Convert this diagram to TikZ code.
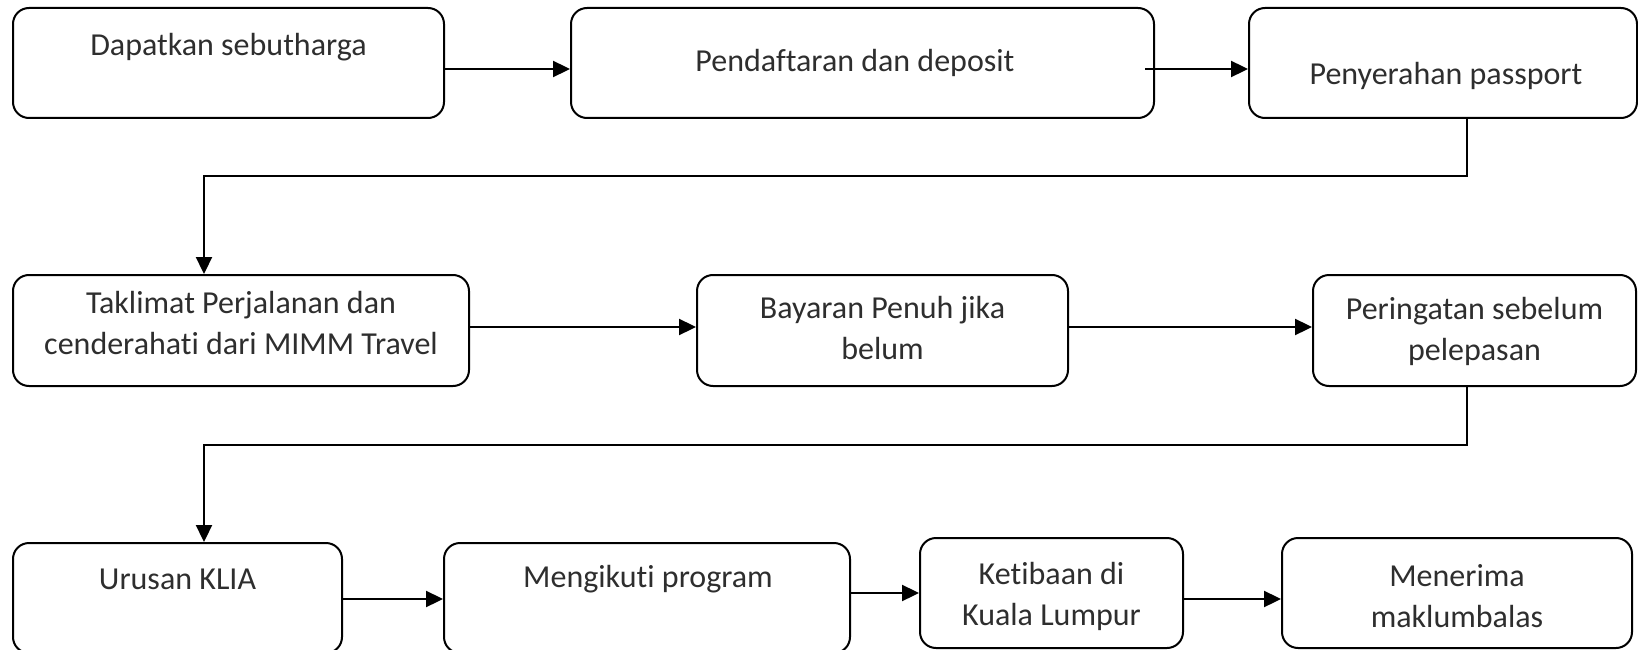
\documentclass[tikz,border=0pt]{standalone}
\usepackage{fontspec}
\setmainfont{Carlito}[Ligatures=NoCommon]
\usetikzlibrary{arrows.meta}
\begin{document}
\begin{tikzpicture}[x=1pt,y=-1pt,
  box/.style={draw, line width=2pt, rounded corners=16pt, minimum height=110pt, inner sep=0pt},
  txt/.style={text=black!82, align=center, font=\fontsize{32}{41}\selectfont, inner sep=0pt},
  arr/.style={line width=2.3pt, -{Triangle[length=17pt,width=16pt]}}]
\useasboundingbox (0,0) rectangle (1638,650);
% row 1
\node[box, minimum width=431pt] (b1) at (228.5,63) {};
\node[box, minimum width=583pt] (b2) at (862.5,63) {};
\node[box, minimum width=388pt] (b3) at (1443,63) {};
\node[txt] (t1) at (228.5,47) {Dapatkan sebutharga};
\node[txt] (t2) at (855,63) {Pendaftaran dan deposit};
\node[txt] (t3) at (1446,76) {Penyerahan passport};
% row 2
\node[box, minimum width=456pt, minimum height=111pt] (b4) at (241,330.5) {};
\node[box, minimum width=371pt, minimum height=111pt] (b5) at (882.5,330.5) {};
\node[box, minimum width=323pt, minimum height=111pt] (b6) at (1474.5,330.5) {};
\node[txt] (t4) at (241,323.5) {Taklimat Perjalanan dan\\cenderahati dari MIMM Travel};
\node[txt] (t5) at (882.5,328.5) {Bayaran Penuh jika\\belum};
\node[txt] (t6) at (1474.5,331.5) {Peringatan sebelum\\pelepasan};
% row 3
\node[box, minimum width=329pt] (b7) at (177.5,598) {};
\node[box, minimum width=406pt] (b8) at (647,598) {};
\node[box, minimum width=263pt] (b9) at (1051.5,593) {};
\node[box, minimum width=350pt] (b10) at (1457,593) {};
\node[txt] (t7) at (177.5,579) {Urusan KLIA};
\node[txt] (t8) at (648,579) {Mengikuti program};
\node[txt] (t9) at (1051.5,596) {Ketibaan di\\Kuala Lumpur};
\node[txt] (t10) at (1457,596) {Menerima\\maklumbalas};
% connectors
\draw[arr] (b1.east |- 0,69) -- (b2.west |- 0,69);
\draw[arr] ([xshift=-10pt]b2.east |- 0,69) -- (b3.west |- 0,69);
\draw[arr] (b3.south -| 1467,0) -- (1467,176) -- (204,176) -- (b4.north -| 204,0);
\draw[arr] (b4.east |- 0,327) -- (b5.west |- 0,327);
\draw[arr] (b5.east |- 0,327) -- (b6.west |- 0,327);
\draw[arr] (b6.south -| 1467,0) -- (1467,445) -- (204,445) -- (b7.north -| 204,0);
\draw[arr] (b7.east |- 0,599) -- (b8.west |- 0,599);
\draw[arr] (b8.east |- 0,593) -- (b9.west |- 0,593);
\draw[arr] (b9.east |- 0,599) -- (b10.west |- 0,599);
\end{tikzpicture}
\end{document}
